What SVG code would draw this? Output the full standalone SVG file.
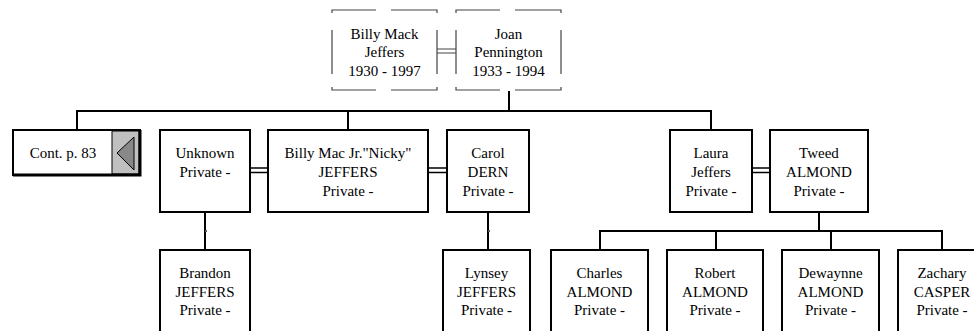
<svg xmlns="http://www.w3.org/2000/svg" width="974" height="331" viewBox="0 0 974 331">
<style>
.box{fill:#fff;stroke:#000;stroke-width:2}
.pbox{fill:none;stroke:#444;stroke-width:1.2}
.ln{fill:none;stroke:#000;stroke-width:2}
.mar{fill:none;stroke:#000;stroke-width:1.6}
.pmar{fill:none;stroke:#444;stroke-width:1.2}
</style>
<rect width="974" height="331" fill="#fff"/>
<g id="connectors">
<path class="pmar" d="M437 49H456M437 53H456"/>
<path class="ln" d="M509 91V111M77 111H711M77 110V130M348 110V130M711 110V130"/>
<path class="mar" d="M250 168H268M250 172.5H268M428 168H447M428 172.5H447M752 168H770M752 172.5H770"/>
<path class="ln" d="M205 212V250M488 212V250M819 212V231M600 231H942M600 230V250M716 230V250M831 230V250M942 230V250"/>
<path d="M205 230h2v2h-2zM488 230h2v2h-2z" fill="#555"/>
</g>
<g id="nodes" font-family="Liberation Serif" font-size="15" text-anchor="middle" fill="#000">
<g id="n_billy_mack">
<path class="pbox" d="M332 13V10H376M391 10H437V13M332 30V74M437 30V74M332 87V90H376M391 90H437V87"/>
<text x="384.5" y="38.5">Billy Mack</text>
<text x="384.5" y="57">Jeffers</text>
<text x="384.5" y="75.5">1930 - 1997</text>
</g>
<g id="n_joan">
<path class="pbox" d="M456 13V10H500M515 10H561V13M456 30V74M561 30V74M456 87V90H500M515 90H561V87"/>
<text x="508.5" y="38.5">Joan</text>
<text x="508.5" y="57">Pennington</text>
<text x="508.5" y="75.5">1933 - 1994</text>
</g>
<g id="n_cont">
<rect x="13" y="130" width="127" height="45" class="box"/>
<rect x="112" y="131" width="27" height="43" fill="#c0c0c0" stroke="#000" stroke-width="1"/>
<path d="M140 130V175H13" fill="none" stroke="#000" stroke-width="3"/>
<polygon points="117,153 134,137 134,170" fill="#888" stroke="#000" stroke-width="1"/>
<text x="63" y="158">Cont. p. 83</text>
</g>
<g id="n_unknown">
<rect x="160" y="130" width="90" height="82" class="box"/>
<text x="205" y="158">Unknown</text>
<text x="205" y="177">Private -</text>
</g>
<g id="n_billy_jr">
<rect x="268" y="130" width="160" height="82" class="box"/>
<text x="348" y="158">Billy Mac Jr."Nicky"</text>
<text x="348" y="177">JEFFERS</text>
<text x="348" y="195.5">Private -</text>
</g>
<g id="n_carol">
<rect x="447" y="130" width="82" height="82" class="box"/>
<text x="488" y="158">Carol</text>
<text x="488" y="177">DERN</text>
<text x="488" y="195.5">Private -</text>
</g>
<g id="n_laura">
<rect x="670" y="130" width="82" height="82" class="box"/>
<text x="711" y="158">Laura</text>
<text x="711" y="177">Jeffers</text>
<text x="711" y="195.5">Private -</text>
</g>
<g id="n_tweed">
<rect x="770" y="130" width="98" height="82" class="box"/>
<text x="819" y="158">Tweed</text>
<text x="819" y="177">ALMOND</text>
<text x="819" y="195.5">Private -</text>
</g>
<g id="n_brandon">
<rect x="160" y="250" width="90" height="95" class="box"/>
<text x="205" y="278">Brandon</text>
<text x="205" y="296.5">JEFFERS</text>
<text x="205" y="315">Private -</text>
</g>
<g id="n_lynsey">
<rect x="443" y="250" width="87" height="95" class="box"/>
<text x="486.5" y="278">Lynsey</text>
<text x="486.5" y="296.5">JEFFERS</text>
<text x="486.5" y="315">Private -</text>
</g>
<g id="n_charles">
<rect x="551" y="250" width="97" height="95" class="box"/>
<text x="599.5" y="278">Charles</text>
<text x="599.5" y="296.5">ALMOND</text>
<text x="599.5" y="315">Private -</text>
</g>
<g id="n_robert">
<rect x="667" y="250" width="96" height="95" class="box"/>
<text x="715" y="278">Robert</text>
<text x="715" y="296.5">ALMOND</text>
<text x="715" y="315">Private -</text>
</g>
<g id="n_dewayne">
<rect x="782" y="250" width="97" height="95" class="box"/>
<text x="830.5" y="278">Dewaynne</text>
<text x="830.5" y="296.5">ALMOND</text>
<text x="830.5" y="315">Private -</text>
</g>
<g id="n_zachary">
<rect x="898" y="250" width="88" height="95" class="box"/>
<text x="942" y="278">Zachary</text>
<text x="942" y="296.5">CASPER</text>
<text x="942" y="315">Private -</text>
</g>
</g>
</svg>
